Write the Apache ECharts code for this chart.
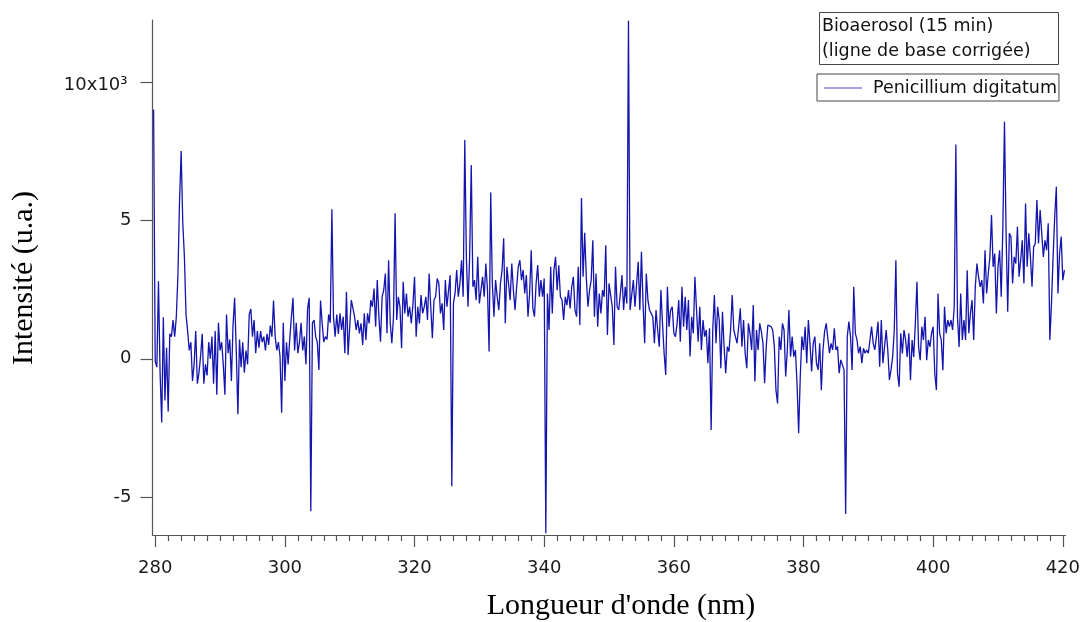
<!DOCTYPE html>
<html>
<head>
<meta charset="utf-8">
<script src="https://cdn.jsdelivr.net/npm/echarts@6/dist/echarts.min.js"></script>
<style>
  html, body { margin: 0; padding: 0; background: #fff; }
  #chart { width: 1083px; height: 622px; }
</style>
</head>
<body>
<div id="chart"></div>
<script>
// Sampling grid of the spectrum (nm)
const WAVELENGTH_START = 279.75;
const WAVELENGTH_STEP = 0.25;

// Intensity (x10^3 u.a.), segment by segment
const seg_280_285 = [9.0, -0.1, -0.3, 2.8, -0.5, -2.3, 1.5, -1.5, 0.4, -1.9,
  0.9, 0.8, 1.4, 0.8, 1.5, 3.0, 5.7, 7.5, 4.9, 3.7,
  1.6, 1.0, 0.3, 0.6];
const seg_286_308 = [-0.8, -0.2, 1.0, -0.9, -0.5, 0.1, 0.9, -0.9, -0.2, -0.6,
  0.6, 0.0, 0.8, -0.9, 1.0, -1.3, 1.3, 0.3, 0.6, -0.2,
  -1.3, 1.6, 0.2, 0.7, -0.8, 1.2, 2.2, 0.3, -2.0, 0.7,
  -0.3, 0.6, -0.5, 0.3, -0.2, 1.6, 1.8, 0.8, 1.4, 0.2,
  1.0, 0.4, 1.0, 0.6, 0.8, 0.3, 0.9, 0.5, 1.2, 0.8,
  2.1, 0.8, 0.3, 0.6, 0.1, -1.95, 1.3, -0.8, 0.6, -0.2,
  0.7, 1.5, 2.2, 0.3, 1.3, 0.2, 0.6, 1.3, 0.3, 0.8,
  -0.2, 1.8, 2.2, -5.5, 1.3, 1.4, 0.8, 0.6, -0.4, 2.1,
  1.3, 0.6, 0.8, 0.7, 1.6, 1.3, 5.4, 1.5, 0.8, 1.6,
  0.9];
const seg_308_317 = [1.64, 1.04, 1.52, 0.2, 2.42, 0.14, 1.16, 2.12, 2.06, 1.52,
  1.04, 1.4, 0.92, 1.28, 0.5, 1.64, 0.68, 1.64, 1.28, 2.12,
  1.88, 2.54, 1.16, 2.84, 1.52, 0.62, 2.24, 2.48, 3.08, 0.92,
  3.56, 1.3, 0.56, 1.5, 5.25];
const seg_317_337 = [1.4, 2.24, 1.88, 0.38, 2.78, 1.64, 2.36, 1.52, 1.88, 1.28,
  1.94, 2.96, 0.8, 1.88, 1.28, 2.3, 1.64, 1.88, 2.24, 1.4,
  3.08, 1.88, 0.74, 2.12, 2.24, 2.9, 2.72, 1.64, 2.0, 1.04,
  2.84, 1.88, 2.48, 3.02, -4.6, 2.0, 2.36, 3.2, 2.24, 2.72,
  3.56, 2.24, 7.9, 3.62, 1.88, 3.68, 7.0, 2.6, 2.84, 2.12,
  3.68, 2.0, 2.48, 2.96, 2.24, 3.44, 2.5, 0.26, 6.0, 2.72,
  1.52, 2.84, 2.24, 1.76, 2.72, 3.2, 4.35, 1.28, 3.32, 2.72,
  2.12, 3.44, 2.48, 1.76, 2.6, 3.32, 3.56, 2.84, 3.2];
const seg_337_366 = [2.36, 3.02, 1.52, 2.36, 3.92, 1.82, 1.52, 2.72, 3.38, 2.24,
  2.84, 2.24, 2.9, -6.3, 2.36, 1.04, 3.32, 1.64, 3.2, 3.68,
  2.48, 3.38, 2.24, 2.12, 1.4, 2.24, 1.94, 2.48, 1.82, 2.6,
  2.96, 1.76, 1.52, 3.32, 1.22, 5.8, 2.96, 4.55, 2.9, 1.88,
  2.48, 2.84, 4.28, 1.52, 3.08, 1.16, 2.36, 1.64, 2.48, 2.24,
  4.1, 0.86, 2.72, 2.78, 1.88, 0.5, 3.32, 1.88, 1.76, 2.36,
  3.02, 1.76, 2.6, 2.0, 12.2, 1.76, 1.76, 2.84, 1.88, 1.88,
  3.5, 1.76, 3.86, 2.0, 0.56, 3.08, 2.12, 1.76, 1.64, 1.52,
  0.56, 1.76, 1.04, 0.44, 2.48, 1.28, 0.2, -0.58, 2.6, 1.16,
  1.76, 1.88, 0.92, 0.8, 1.28, 2.12, 0.62, 2.6, 1.16, 2.24,
  1.04, 2.12, 0.08, 1.52, 0.92, 2.96, 1.76, 0.62, 1.88, 0.32,
  1.4, 0.8, 1.04, -0.16, 1.1, -2.57];
const seg_366_394 = [1.04, 2.3, 0.56, 1.88, 1.4, -0.34, 1.7, 0.44, -0.52, 0.44,
  0.26, 1.04, 2.3, 1.04, 0.98, 0.56, 1.16, 1.82, 0.44, 1.4,
  0.2, -0.34, 1.28, 0.92, 0.32, 1.94, -0.82, 1.04, 0.32, 1.28,
  0.98, 0.56, -0.88, 0.44, 1.22, 1.16, 1.16, 1.04, 0.44, -1.13,
  -1.61, 0.8, 0.32, 1.28, 1.04, -0.64, 0.32, 1.76, 0.08, 0.8,
  0.08, 0.32, -0.88, -2.69, -0.64, 0.8, 0.32, 1.16, -0.16, 1.4,
  0.56, -0.46, 0.56, 0.8, -0.16, -0.4, 0.56, -1.13, 0.32, 0.98,
  1.28, 1.28, 0.2, 0.56, 0.32, 1.1, 0.32, 0.44, -0.52, -0.04,
  0.02, -0.4, -5.6, 0.8, 1.34, 0.8, -0.4, 2.6, 0.92, 0.68,
  0.2, 0.44, -0.16, 0.38, 0.2, 0.32, 0.2, 0.68, 1.16, 0.56,
  0.32, 0.8, 1.34, -0.29, 1.4, -0.16, 0.44, 1.04, 0.32, -0.76,
  -0.4];
const seg_394_420 = [0.07, 1.04, 3.56, -0.53, -1.01, 0.92, 0.19, 1.04, 0.68, 0.07,
  0.92, -0.77, 0.68, 0.07, 1.28, 2.78, 0.43, -0.05, 1.16, 0.68,
  1.52, -0.05, 0.68, 0.43, 0.92, 1.16, -0.53, -1.13, 2.36, 0.92,
  0.68, -0.41, 1.88, 0.92, 1.40, 1.16, 1.40, 1.04, 1.88, 7.74,
  1.52, 0.43, 2.36, 0.68, 1.40, 0.68, 3.20, 0.92, 1.64, 2.12,
  0.68, 2.60, 3.44, 2.96, 2.60, 2.84, 2.0, 3.92, 2.36, 3.08,
  3.68, 5.19, 3.32, 3.80, 1.64, 3.32, 3.92, 2.24, 4.77, 8.56,
  4.53, 1.70, 4.53, 4.41, 2.72, 3.68, 3.44, 4.77, 2.96, 3.56,
  4.28, 2.72, 5.61, 3.32, 4.53, 3.68, 2.60, 4.04, 4.16, 5.73,
  4.16, 5.37, 5.37, 3.68, 4.28, 3.92, 4.89, 0.68,
  2.0, 3.68, 5.13, 6.21, 2.36, 3.80, 4.41, 2.84, 3.20];

// Tick labels
const xMajorTicks = [280, 300, 320, 340, 360, 380, 400, 420];
const xMinorTicks = [282, 284, 286, 288, 290, 292, 294, 296, 298,
  302, 304, 306, 308, 310, 312, 314, 316, 318,
  322, 324, 326, 328, 330, 332, 334, 336, 338,
  342, 344, 346, 348, 350, 352, 354, 356, 358,
  362, 364, 366, 368, 370, 372, 374, 376, 378,
  382, 384, 386, 388, 390, 392, 394, 396, 398,
  402, 404, 406, 408, 410, 412, 414, 416, 418];
const yTicks = [-5, 0, 5, 10];

const seriesName = 'Penicillium digitatum';
const infoText = 'Bioaerosol (15 min)\n(ligne de base corrigée)';
const xTitle = "Longueur d'onde (nm)";
const yTitle = 'Intensité (u.a.)';

const intensity = [].concat(seg_280_285, seg_286_308, seg_308_317, seg_317_337,
  seg_337_366, seg_366_394, seg_394_420);
const points = intensity.map((v, i) => [WAVELENGTH_START + i * WAVELENGTH_STEP, v]);

const axisColor = '#555';
const lineColor = '#1414ae';
const labelFont = { fontFamily: 'DejaVu Sans', fontSize: 18, color: '#1a1a1a' };

const chart = echarts.init(document.getElementById('chart'), null, { renderer: 'canvas' });
chart.setOption({
  animation: false,
  backgroundColor: '#fff',
  grid: { left: 152.5, right: 17, top: 20, bottom: 87 },
  title: {
    text: infoText,
    left: 819, top: 12,
    padding: [2, 28, 1, 3],
    borderColor: '#444', borderWidth: 1,
    textStyle: { fontFamily: 'DejaVu Sans', fontSize: 17.5, fontWeight: 'normal', color: '#111', lineHeight: 25 }
  },
  legend: {
    left: 817, top: 74,
    padding: [5, 2, 4, 7],
    borderColor: '#444', borderWidth: 1,
    itemWidth: 38, itemHeight: 1.2,
    textStyle: { fontFamily: 'DejaVu Sans', fontSize: 17.5, color: '#111', padding: [0, 0, 0, 6] },
    data: [{ name: seriesName, icon: 'rect', itemStyle: { color: '#4646cc' } }]
  },
  xAxis: [{
    type: 'value', min: 279.58, max: 420.42,
    axisLine: { onZero: false, lineStyle: { color: axisColor, width: 1.2 } },
    axisTick: { show: true, customValues: xMajorTicks, length: 12, lineStyle: { color: axisColor, width: 1.2 } },
    axisLabel: Object.assign({ customValues: xMajorTicks, margin: 24 }, labelFont),
    splitLine: { show: false }
  }, {
    type: 'value', min: 279.58, max: 420.42, position: 'bottom',
    axisLine: { show: false, onZero: false },
    axisTick: { show: true, customValues: xMinorTicks, length: 6, lineStyle: { color: axisColor, width: 1.2 } },
    axisLabel: { show: false },
    splitLine: { show: false }
  }],
  yAxis: {
    type: 'value', min: -6.36, max: 12.23,
    axisLine: { show: true, onZero: false, lineStyle: { color: axisColor, width: 1.2 } },
    axisTick: { show: true, customValues: yTicks, length: 12, lineStyle: { color: axisColor, width: 1.2 } },
    axisLabel: Object.assign({
      customValues: yTicks, margin: 21,
      formatter: v => v === 10 ? '{e|10x10³}' : String(v),
      rich: { e: { fontFamily: 'DejaVu Sans', fontSize: 18, color: '#1a1a1a', padding: [8, 4, 0, 0] } }
    }, labelFont),
    splitLine: { show: false }
  },
  series: [{
    name: seriesName,
    type: 'line',
    xAxisIndex: 0,
    data: points,
    symbol: 'none',
    sampling: 'none',
    lineStyle: { width: 1.3, color: lineColor },
    itemStyle: { color: lineColor }
  }],
  graphic: [{
    type: 'text',
    x: 24, y: 278, rotation: Math.PI / 2,
    style: { text: yTitle, font: '30px "Liberation Serif"', fill: '#000', textAlign: 'center', textVerticalAlign: 'middle' }
  }, {
    type: 'text',
    x: 621, y: 606,
    style: { text: xTitle, font: '30px "Liberation Serif"', fill: '#000', textAlign: 'center', textVerticalAlign: 'middle' }
  }]
});
</script>
</body>
</html>
